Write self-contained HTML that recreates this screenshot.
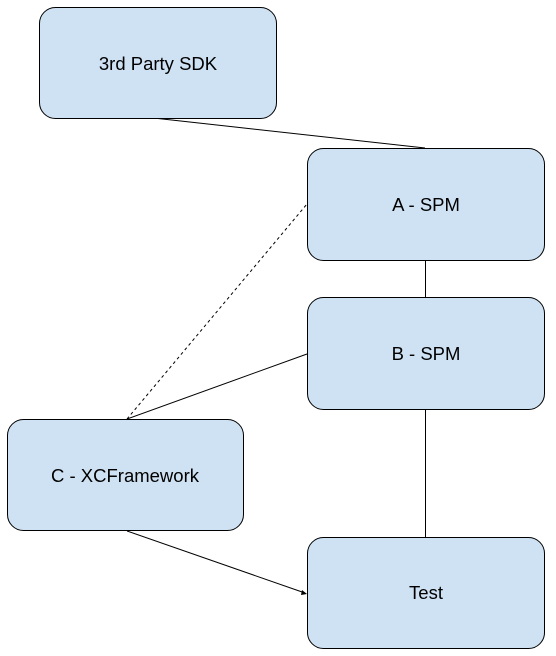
<!DOCTYPE html>
<html><head><meta charset="utf-8"><style>
html,body{margin:0;padding:0;background:#fff;width:556px;height:656px;overflow:hidden}
</style></head><body>
<svg width="556" height="656" viewBox="0 0 556 656" xmlns="http://www.w3.org/2000/svg" font-family="Liberation Sans, Arial, sans-serif" font-size="18.5">
<g stroke="#000" stroke-width="1" fill="none">
<line x1="158" y1="118.5" x2="425" y2="148"/>
<line x1="425.5" y1="260" x2="425.5" y2="297"/>
<line x1="425.5" y1="409" x2="425.5" y2="537"/>
<line x1="127" y1="419" x2="307" y2="204" stroke-dasharray="3,3"/>
<line x1="127" y1="419" x2="307" y2="354"/>
<line x1="127" y1="531" x2="305" y2="593"/>
</g>
<polygon points="307,594 302,590 301,595" fill="#000"/>
<g fill="#cfe2f3" stroke="#000" stroke-width="1">
<rect x="39.5" y="7.5" width="237" height="111" rx="16"/>
<rect x="307.5" y="148.5" width="237" height="112" rx="16"/>
<rect x="307.5" y="297.5" width="237" height="112" rx="16"/>
<rect x="7.5" y="419.5" width="236" height="111" rx="16"/>
<rect x="307.5" y="537.5" width="237" height="111" rx="16"/>
</g>
<g fill="#000" text-anchor="middle">
<text x="158" y="70">3rd Party SDK</text>
<text x="426" y="211">A - SPM</text>
<text x="426" y="360">B - SPM</text>
<text x="125" y="482">C - XCFramework</text>
<text x="426" y="599">Test</text>
</g>
</svg>
</body></html>
